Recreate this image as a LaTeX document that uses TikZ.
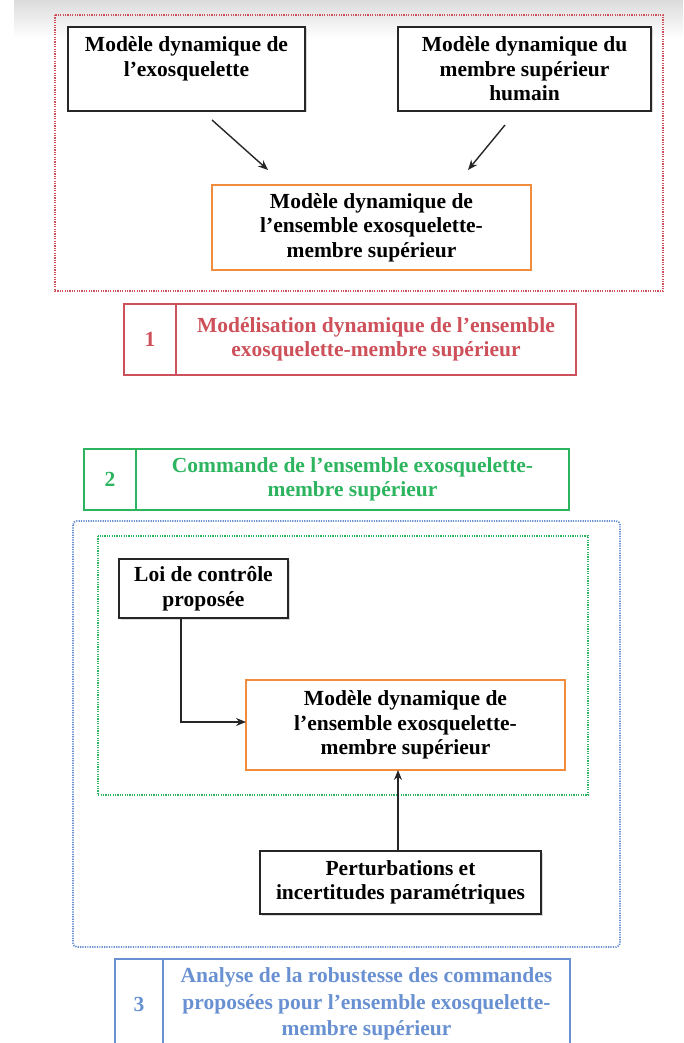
\documentclass[tikz,border=0pt]{standalone}
\usepackage{fontspec}
\setmainfont{Liberation Serif}
\usetikzlibrary{arrows.meta,positioning,shadows}

\definecolor{phasered}{RGB}{205,80,90}
\definecolor{phasegreen}{RGB}{45,180,95}
\definecolor{phaseblue}{RGB}{105,145,210}
\definecolor{modelorange}{RGB}{240,140,60}

\tikzset{
  blackbox/.style={draw=black!85, line width=2pt, fill=white, align=center,
    drop shadow={shadow xshift=1.5pt, shadow yshift=-1.5pt, opacity=.3}},
  orangebox/.style={draw=modelorange, line width=1.8pt, fill=white, align=center},
  redcell/.style={draw=phasered, line width=1.8pt, text=phasered, align=center},
  greencell/.style={draw=phasegreen, line width=1.8pt, text=phasegreen, align=center},
  bluecell/.style={draw=phaseblue, line width=1.8pt, text=phaseblue, align=center,
    font=\fontsize{21.5}{26.5}\selectfont\bfseries},
  dotframe/.style={line width=1.8pt, dash pattern=on 1.2pt off 1.2pt},
  link/.style={-{Stealth[length=10pt,width=8pt]}, line width=1.4pt, black!85}
}

\begin{document}
\begin{tikzpicture}[x=1pt, y=-1pt, >=Stealth,
    every node/.style={font=\fontsize{21.5}{24.5}\selectfont\bfseries, inner sep=0pt, outer sep=0pt}]
  \clip (0,0) rectangle (683,1043);
  \useasboundingbox (0,0) rectangle (683,1043);
  % top band
  \shade[top color=black!14, bottom color=white] (14,0) rectangle (683,38);

  % part 1: modelling
  \draw[dotframe, phasered] (55,15) rectangle (663,291);
  \node[blackbox, minimum width=237, minimum height=84] (exo) at (186.5,69) {};
  \node[align=center] at ([yshift=10pt]exo.center) {Modèle dynamique de\\l’exosquelette};
  \node[blackbox, minimum width=253, minimum height=84] (human) at (524.5,69)
    {Modèle dynamique du\\membre supérieur\\humain};
  \node[orangebox, minimum width=319, minimum height=85] (model) at (371.5,227.5)
    {Modèle dynamique de\\l’ensemble exosquelette-\\membre supérieur};
  \coordinate (exoout) at (212,120);
  \coordinate (exoin) at (268,170);
  \coordinate (humout) at (505,125);
  \coordinate (humin) at (468,170);
  \draw[link] (exoout) -- (exoin);
  \draw[link] (humout) -- (humin);

  \node[redcell, minimum width=52, minimum height=71] (num1) at (150,339.5) {1};
  \node[redcell, minimum width=400, minimum height=71, right=0pt of num1] (title1)
    {Modélisation dynamique de l’ensemble\\exosquelette-membre supérieur};

  % part 2: control
  \node[greencell, minimum width=52, minimum height=61] (num2) at (110,479.5) {2};
  \node[greencell, minimum width=433, minimum height=61, right=0pt of num2] (title2)
    {Commande de l’ensemble exosquelette-\\membre supérieur};

  \draw[dotframe, phaseblue, rounded corners=4pt] (73,521) rectangle (620,947);
  \draw[dotframe, phasegreen] (98,536) rectangle (588,795);

  \node[blackbox, minimum width=169, minimum height=59] (law) at (203.5,588.5)
    {Loi de contrôle\\proposée};
  \node[orangebox, minimum width=319, minimum height=90] (modelctl) at (405.5,725)
    {Modèle dynamique de\\l’ensemble exosquelette-\\membre supérieur};
  \node[blackbox, minimum width=281, minimum height=63] (pert) at (400.5,882.5)
    {Perturbations et\\incertitudes paramétriques};
  \draw[link] ([xshift=-22.5pt]law.south) |- ([yshift=3pt]modelctl.west);
  \draw[link] ([xshift=-2.5pt]pert.north) -- ([xshift=-2.5pt]pert.north |- modelctl.south);

  % part 3: robustness
  \node[bluecell, minimum width=48, minimum height=90] (num3) at (139,1004) {3};
  \node[bluecell, minimum width=407, minimum height=90, right=0pt of num3] (title3)
    {Analyse de la robustesse des commandes\\proposées pour l’ensemble exosquelette-\\membre supérieur};
\end{tikzpicture}
\end{document}
